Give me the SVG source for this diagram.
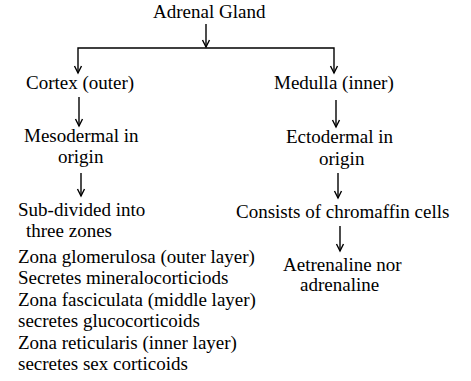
<svg xmlns="http://www.w3.org/2000/svg" width="471" height="381" viewBox="0 0 471 381" font-family="'Liberation Serif', 'Times New Roman', Times, serif" font-size="19">
<style>
text{font-family:'Liberation Serif','Times New Roman',Times,serif;font-size:19px;fill:#000}
.c{stroke:#000;stroke-width:1.4;fill:none}
</style>
<rect width="471" height="381" fill="#fff"/>
<g id="connectors">
<path class="c" d="M206,24 V47"/>
<path class="c" d="M202.5,40 L206,47 L209.5,40"/>
<path class="c" d="M78,73 V48 H334 V73"/>
<path class="c" d="M74.5,66 L78,73 L81.5,66"/>
<path class="c" d="M330.5,66 L334,73 L337.5,66"/>
<path class="c" d="M79,97 V126"/>
<path class="c" d="M75.5,119 L79,126 L82.5,119"/>
<path class="c" d="M336,100 V127"/>
<path class="c" d="M332.5,120 L336,127 L339.5,120"/>
<path class="c" d="M81,173 V196"/>
<path class="c" d="M77.5,189 L81,196 L84.5,189"/>
<path class="c" d="M338,173 V198"/>
<path class="c" d="M334.5,191 L338,198 L341.5,191"/>
<path class="c" d="M340,226 V251"/>
<path class="c" d="M336.5,244 L340,251 L343.5,244"/>
</g>
<g id="adrenal"><text x="153" y="18">Adrenal Gland</text></g>
<g id="cortex"><text x="26" y="89">Cortex (outer)</text></g>
<g id="medulla"><text x="274" y="89">Medulla (inner)</text></g>
<g id="mesodermal"><text x="24" y="142">Mesodermal in</text><text x="58" y="163">origin</text></g>
<g id="ectodermal"><text x="286" y="143">Ectodermal in</text><text x="319" y="165">origin</text></g>
<g id="zones">
<text x="18" y="216">Sub-divided into</text>
<text x="26" y="237">three zones</text>
<text x="18" y="262.5">Zona glomerulosa (outer layer)</text>
<text x="18" y="284">Secretes mineralocorticiods</text>
<text x="18" y="305.5">Zona fasciculata (middle layer)</text>
<text x="18" y="327">secretes glucocorticoids</text>
<text x="18" y="348.5">Zona reticularis (inner layer)</text>
<text x="18" y="370">secretes sex corticoids</text>
</g>
<g id="chromaffin"><text x="236" y="218">Consists of chromaffin cells</text></g>
<g id="aetrenaline"><text x="283" y="271">Aetrenaline nor</text><text x="300" y="291">adrenaline</text></g>
</svg>
